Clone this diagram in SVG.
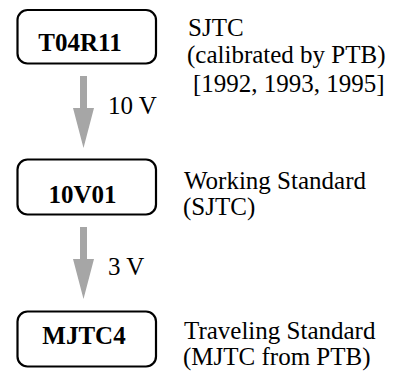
<svg xmlns="http://www.w3.org/2000/svg" width="394" height="376" viewBox="0 0 394 376">
<style>
.box{fill:#fff;stroke:#000;stroke-width:2.2}
.lbl{font-family:"Liberation Serif","Times New Roman",serif;font-size:25px;font-weight:bold;fill:#000;text-anchor:middle}
.txt{font-family:"Liberation Serif","Times New Roman",serif;font-size:25px;fill:#000}
.arr{fill:#a6a6a6;stroke:none}
</style>
<rect width="394" height="376" fill="#fff"/>
<g id="connectors">
<polygon class="arr" points="80,76 87,76 87,108 94,108 83.5,148 73,108 80,108"/>
<text class="txt" x="108" y="114">10 V</text>
<polygon class="arr" points="80,227 87,227 87,259 94,259 83.5,299 73,259 80,259"/>
<text class="txt" x="108" y="275">3 V</text>
</g>
<g id="T04R11">
<rect class="box" x="17.5" y="10" width="138.5" height="53.5" rx="10"/>
<text class="lbl" x="80" y="51">T04R11</text>
</g>
<g id="T04R11-note">
<text class="txt" x="188" y="36">SJTC</text>
<text class="txt" x="187" y="63">(calibrated by PTB)</text>
<text class="txt" x="193" y="92">[1992, 1993, 1995]</text>
</g>
<g id="10V01">
<rect class="box" x="17.5" y="159.5" width="138.5" height="55" rx="10"/>
<text class="lbl" x="82.5" y="203">10V01</text>
</g>
<g id="10V01-note">
<text class="txt" x="184" y="189">Working Standard</text>
<text class="txt" x="183" y="215">(SJTC)</text>
</g>
<g id="MJTC4">
<rect class="box" x="17.5" y="311.5" width="138.5" height="55" rx="10"/>
<text class="lbl" x="84" y="344">MJTC4</text>
</g>
<g id="MJTC4-note">
<text class="txt" x="184" y="339">Traveling Standard</text>
<text class="txt" x="183" y="365">(MJTC from PTB)</text>
</g>
</svg>
